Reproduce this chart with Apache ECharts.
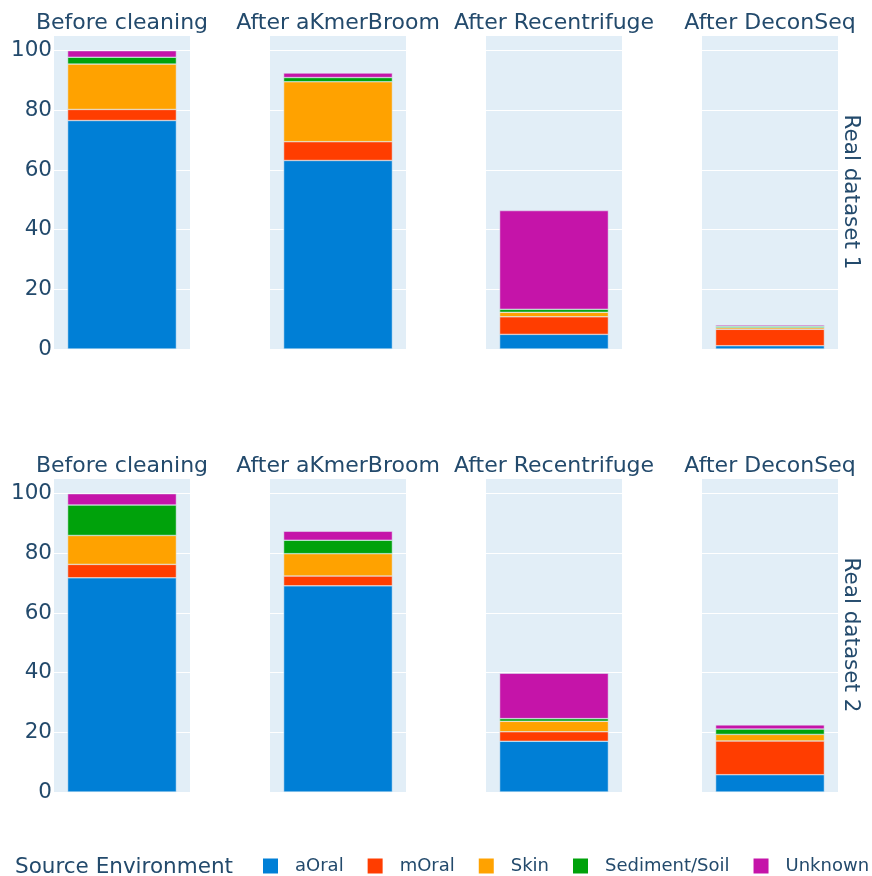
<!DOCTYPE html>
<html>
<head>
<meta charset="utf-8">
<script src="https://cdn.jsdelivr.net/npm/echarts@6/dist/echarts.min.js"></script>
<style>
  html, body { margin: 0; padding: 0; background: #fff; }
  #chart { width: 872px; height: 876px; }
</style>
</head>
<body>
<div id="chart"></div>
<script>
// ---- data ----
const methods = ['Before cleaning', 'After aKmerBroom', 'After Recentrifuge', 'After DeconSeq'];
const datasets = ['Real dataset 1', 'Real dataset 2'];
const sources = ['aOral', 'mOral', 'Skin', 'Sediment/Soil', 'Unknown'];
const yTicks = [0, 20, 40, 60, 80, 100];

// Real dataset 1 (one value per method)
const aOral1   = [76.6, 63.2, 4.9, 1.1];
const mOral1   = [3.7, 6.3, 5.9, 5.5];
const skin1    = [15.2, 20.1, 1.5, 0.55];
const soil1    = [2.3, 1.4, 1.0, 0.45];
const unknown1 = [2.2, 1.5, 33.1, 0.45];

// Real dataset 2
const aOral2   = [71.8, 69.1, 17.0, 5.8];
const mOral2   = [4.5, 3.3, 3.2, 11.3];
const skin2    = [9.7, 7.5, 3.5, 2.2];
const soil2    = [10.2, 4.5, 0.9, 1.8];
const unknown2 = [3.8, 3.0, 15.2, 1.4];

const seriesByDataset = [
  [aOral1, mOral1, skin1, soil1, unknown1],
  [aOral2, mOral2, skin2, soil2, unknown2]
];

// ---- styling ----
const FONT = 'DejaVu Sans';
const TXT = '#234A6C';
const PANEL_BG = '#E2EEF7';
const colors = ['#007FD6', '#FF3D00', '#FFA200', '#00A20B', '#C514A9'];
const gridLefts = [54, 270, 486, 702];
const gridW = 136;
const rowTops = [35, 478];
const gridH = 314;
const yMax = 100 / 0.95;

const grids = [], xAxes = [], yAxes = [], series = [], titles = [], graphics = [];
let gi = 0;
for (let r = 0; r < datasets.length; r++) {
  for (let c = 0; c < methods.length; c++) {
    grids.push({
      left: gridLefts[c], top: rowTops[r], width: gridW, height: gridH,
      show: true, backgroundColor: PANEL_BG, borderWidth: 0
    });
    xAxes.push({
      type: 'category', gridIndex: gi, data: [methods[c]],
      axisLine: { show: false }, axisTick: { show: false }, axisLabel: { show: false },
      splitLine: { show: false }
    });
    yAxes.push({
      type: 'value', gridIndex: gi, min: 0, max: yMax, interval: 20,
      axisLine: { show: false }, axisTick: { show: false },
      splitLine: { show: true, lineStyle: { color: '#ffffff', width: 1 } },
      axisLabel: {
        show: c === 0, margin: 2, fontFamily: FONT, fontSize: 21.5, color: TXT,
        showMaxLabel: false,
        formatter: v => (yTicks.indexOf(v) >= 0 ? String(v) : '')
      }
    });
    for (let s = 0; s < sources.length; s++) {
      series.push({
        name: sources[s], type: 'bar', stack: 'g' + gi,
        xAxisIndex: gi, yAxisIndex: gi,
        barCategoryGap: '20%',
        data: [seriesByDataset[r][s][c]],
        itemStyle: { color: colors[s], borderColor: PANEL_BG, borderWidth: 0.5 },
        emphasis: { disabled: true },
        animation: false
      });
    }
    titles.push({
      text: methods[c],
      left: gridLefts[c] + gridW / 2,
      top: r === 0 ? 12.5 : 455.5,
      textAlign: 'center',
      padding: 0,
      textStyle: { fontFamily: FONT, fontSize: 22, fontWeight: 'normal', color: TXT }
    });
    gi++;
  }
  graphics.push({
    type: 'text',
    x: 851, y: rowTops[r] + gridH / 2,
    rotation: -Math.PI / 2,
    style: {
      text: datasets[r], fill: TXT, font: '21.5px "DejaVu Sans"',
      align: 'center', verticalAlign: 'middle'
    }
  });
}

titles.push({
  text: 'Source Environment', left: 15, top: 856, padding: 0,
  textStyle: { fontFamily: FONT, fontSize: 21.5, fontWeight: 'normal', color: TXT }
});

const chart = echarts.init(document.getElementById('chart'), null, { renderer: 'canvas' });
chart.setOption({
  animation: false,
  backgroundColor: '#ffffff',
  title: titles,
  grid: grids,
  xAxis: xAxes,
  yAxis: yAxes,
  series: series,
  graphic: graphics,
  legend: {
    data: sources,
    left: 263, top: 857, width: 640, padding: 0,
    orient: 'horizontal',
    icon: 'rect', itemWidth: 15, itemHeight: 15, itemGap: 24,
    selectedMode: false,
    itemStyle: { borderWidth: 0 },
    textStyle: { fontFamily: FONT, fontSize: 18, color: TXT, padding: [0, 0, 0, 12] }
  }
});
</script>
</body>
</html>
